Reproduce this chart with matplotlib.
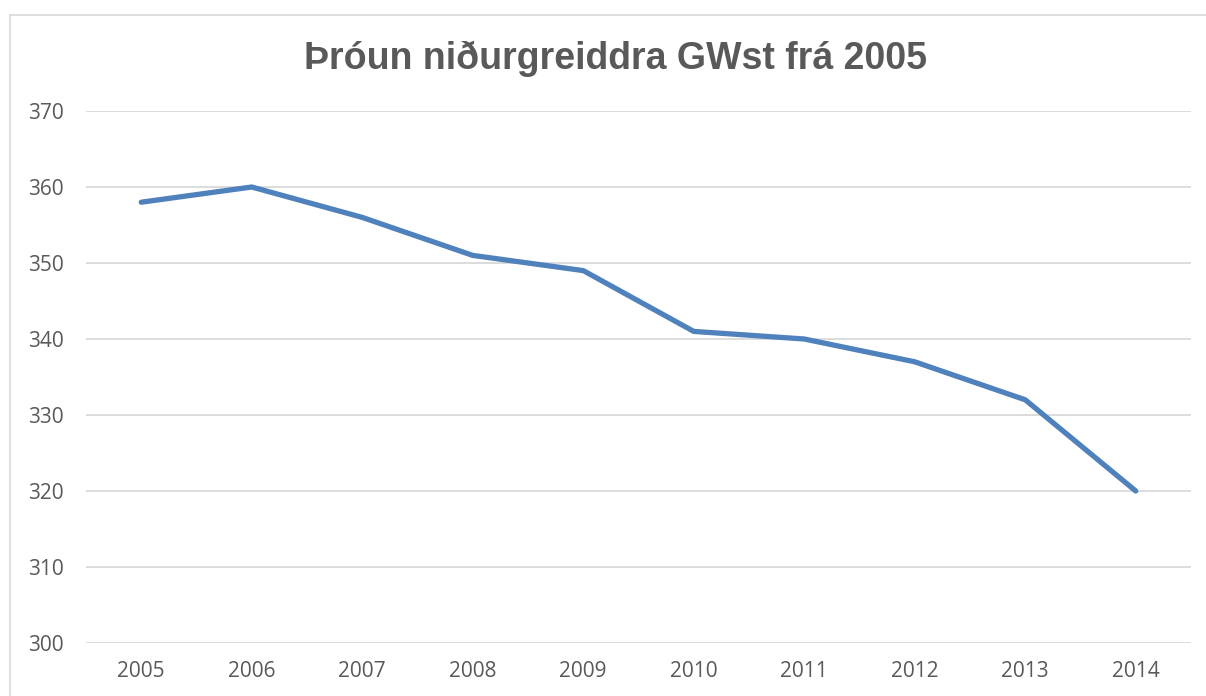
import matplotlib.pyplot as plt
from matplotlib.lines import Line2D

years = ['2005', '2006', '2007', '2008', '2009', '2010', '2011', '2012', '2013', '2014']
gwst = [358, 360, 356, 351, 349, 341, 340, 337, 332, 320]
yticks = [300, 310, 320, 330, 340, 350, 360, 370]

plt.rcParams['font.family'] = ['Open Sans', 'DejaVu Sans']

fig = plt.figure(figsize=(12.06, 6.96), dpi=100)
ax = fig.add_axes([86 / 1206, 1 - 643 / 696, (1191 - 86) / 1206, (643 - 111) / 696])

x = range(len(years))
ax.plot(x, gwst, color='#4F81BD', linewidth=3.8, solid_capstyle='round', solid_joinstyle='round', zorder=3)

ax.set_xlim(-0.5, len(years) - 0.5)
ax.set_ylim(300, 370)
ax.set_yticks(yticks)
ax.set_xticks(list(x))
ax.set_xticklabels(years)
ax.grid(axis='y', color='#D9D9D9', linewidth=1.3)
ax.set_axisbelow(True)
for s in ax.spines.values():
    s.set_visible(False)
ax.tick_params(axis='both', length=0, labelsize=15, labelcolor='#595959')
ax.tick_params(axis='y', pad=16)
ax.tick_params(axis='x', pad=13)

fig.text(615 / 1206, 1 - 59 / 696, 'Þróun niðurgreiddra GWst frá 2005', ha='center', va='center',
         fontsize=27, fontweight='bold', color='#595959', family=['Liberation Sans', 'DejaVu Sans'])

# chart frame (only left and top edges visible in the crop)
fig.add_artist(Line2D([10 / 1206, 10 / 1206], [0, 1 - 15 / 696], transform=fig.transFigure, color='#D9D9D9', linewidth=1.2))
fig.add_artist(Line2D([10 / 1206, 1], [1 - 15 / 696, 1 - 15 / 696], transform=fig.transFigure, color='#D9D9D9', linewidth=1.2))

fig.savefig('out.png', dpi=100)
